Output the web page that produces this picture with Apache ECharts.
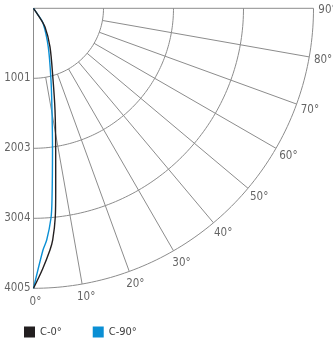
<!DOCTYPE html>
<html><head><meta charset="utf-8">
<script src="https://cdn.jsdelivr.net/npm/echarts@6/dist/echarts.min.js"></script>
<style>html,body{margin:0;padding:0;background:#fff}#c{width:333px;height:344px}</style>
</head><body><div id="c"></div>
<script>
// Radial (intensity) ticks
const radialTickLabels = ['1001', '2003', '3004', '4005'];
const radialTickValues = [1001.25, 2002.5, 3003.75, 4005];
// Angle ticks
const angleTicks = [0, 10, 20, 30, 40, 50, 60, 70, 80, 90];
const angleTickLabels = ['0°', '10°', '20°', '30°', '40°', '50°', '60°', '70°', '80°', '90°'];
// Series names
const seriesNames = ['C-0°', 'C-90°'];
// C-0° curve (angle in degrees, intensity)
const c0Angles = [0, 2, 3.9, 4.74, 5.96, 6.97, 8.9, 11.94, 15.4, 23.1, 31.6, 34, 36];
const c0Values = [4005, 3730, 3465, 3325, 3001, 2618, 2051, 1486, 1049, 601, 314, 130, 0];
// C-90° curve
const c90Angles = [0, 2.25, 3.26, 4.77, 5.51, 7.64, 10.3, 13.7, 20.9, 32.9, 35, 36];
const c90Values = [4005, 3460, 3320, 3010, 2755, 2045, 1479, 1056, 593, 250, 100, 0];

const RMAX = 4200;
const LABEL_R = 4177;
const FONT = "'Liberation Sans Narrow', 'DejaVu Sans Condensed', 'Arial Narrow', sans-serif";
const GRID = '#8c8c8c';
const TEXT = '#3d3d3d';
const BLACK = '#231f20';
const BLUE = '#0a8fd4';

function gridLine(data) {
  return {type: 'line', coordinateSystem: 'polar', data: data, symbol: 'none', silent: true,
    smooth: false, lineStyle: {color: GRID, width: 1}, z: 1};
}
const series = [];
// arcs
radialTickValues.forEach(r => {
  const d = [];
  for (let a = 0; a <= 90; a += 1) d.push([r, a]);
  series.push(gridLine(d));
});
// spokes
angleTicks.forEach(a => {
  const inner = (a === 0 || a === 90) ? 0 : radialTickValues[0];
  series.push(gridLine([[inner, a], [radialTickValues[radialTickValues.length - 1], a]]));
});
// curves
series.push({name: seriesNames[0], type: 'line', coordinateSystem: 'polar', symbol: 'none', smooth: 0.3,
  color: BLACK, lineStyle: {color: BLACK, width: 1.4}, itemStyle: {color: BLACK}, z: 5,
  data: c0Angles.map((a, i) => [c0Values[i], a])});
series.push({name: seriesNames[1], type: 'line', coordinateSystem: 'polar', symbol: 'none', smooth: 0.3,
  color: BLUE, lineStyle: {color: BLUE, width: 1.4}, itemStyle: {color: BLUE}, z: 4,
  data: c90Angles.map((a, i) => [c90Values[i], a])});
// angle labels
series.push({type: 'scatter', coordinateSystem: 'polar', symbolSize: 0, silent: true,
  data: angleTicks.map(a => [LABEL_R, a]),
  label: {show: true, position: 'inside', offset: [2, 1.5], color: TEXT, fontSize: 11.5, fontFamily: FONT,
    formatter: p => angleTickLabels[p.dataIndex]}});
// radial labels
series.push({type: 'scatter', coordinateSystem: 'polar', symbolSize: 0, silent: true,
  data: radialTickValues.map(r => [r, 0]),
  label: {show: true, position: 'left', distance: 3, color: TEXT, fontSize: 11.5, fontFamily: FONT,
    formatter: p => radialTickLabels[p.dataIndex]}});

const chart = echarts.init(document.getElementById('c'), null, {renderer: 'canvas'});
chart.setOption({
  animation: false,
  polar: {center: [33.5, 8.3], radius: 280 * RMAX / 4005},
  angleAxis: {type: 'value', min: 0, max: 360, startAngle: -90, clockwise: false, show: false},
  radiusAxis: {type: 'value', min: 0, max: RMAX, show: false},
  legend: {data: seriesNames.map(n => ({name: n, icon: 'rect'})), left: 24, top: 326.5, padding: 0,
    itemWidth: 11, itemHeight: 11, itemGap: 31,
    textStyle: {fontSize: 11, color: TEXT, fontFamily: FONT}},
  series: series
});
</script></body></html>
